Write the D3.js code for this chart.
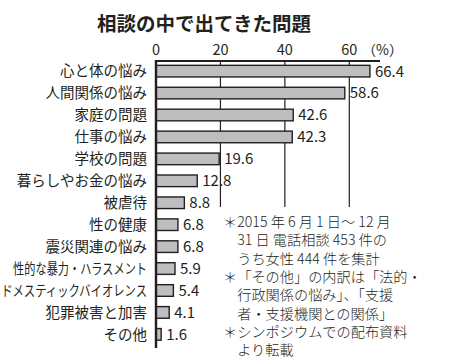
<!DOCTYPE html>
<html>
<head>
<meta charset="utf-8">
<script src="https://cdn.jsdelivr.net/npm/d3@7"></script>
<style>
  body { margin: 0; background: #fff; }
  svg { display: block; }
</style>
</head>
<body>
<div id="chart"></div>
<script>
// data
const categories = ["心と体の悩み", "人間関係の悩み", "家庭の問題", "仕事の悩み", "学校の問題",
  "暮らしやお金の悩み", "被虐待", "性の健康", "震災関連の悩み", "性的な暴力・ハラスメント",
  "ドメスティックバイオレンス", "犯罪被害と加害", "その他"];
const values = [66.4, 58.6, 42.6, 42.3, 19.6, 12.8, 8.8, 6.8, 6.8, 5.9, 5.4, 4.1, 1.6];
const ticks = [0, 20, 40, 60];
const notes = [
  "＊2015 年 6 月 1 日～ 12 月",
  "　31 日 電話相談 453 件の",
  "　うち女性 444 件を集計",
  "＊「その他」の内訳は「法的・",
  "　行政関係の悩み」、「支援",
  "　者・支援機関との関係」",
  "＊シンポジウムでの配布資料",
  "　より転載"
];

const W = 456, H = 361;
const ink = "#231f20";
const jp = "'Noto Sans CJK JP', 'Noto Sans', sans-serif";

const svg = d3.select("#chart").append("svg")
  .attr("width", W).attr("height", H);

const x = d3.scaleLinear().domain([0, 60]).range([156, 349.3]);
const y = d3.scaleBand().domain(categories).range([60.5, 345]).paddingInner(0.47).paddingOuter(0.22);

// title
svg.append("text")
  .attr("x", 204).attr("y", 31)
  .attr("text-anchor", "middle")
  .style("font-family", jp).style("font-weight", "bold").style("font-size", "19.5px")
  .attr("fill", ink)
  .text("相談の中で出てきた問題");

// tick labels
svg.selectAll(".tick-label").data(ticks).join("text")
  .attr("class", "tick-label")
  .attr("x", d => x(d)).attr("y", 55)
  .attr("text-anchor", "middle")
  .style("font-family", jp).style("font-size", "14.5px")
  .attr("fill", ink)
  .text(d => d);
svg.append("text")
  .attr("x", 362).attr("y", 55)
  .style("font-family", jp).style("font-size", "14px")
  .attr("fill", ink)
  .text("（%）");

// gridlines
svg.selectAll(".grid").data(ticks.slice(1)).join("line")
  .attr("class", "grid")
  .attr("x1", d => x(d)).attr("x2", d => x(d))
  .attr("y1", 61).attr("y2", 207)
  .attr("stroke", ink).attr("stroke-width", 1.2);

// bars
svg.selectAll(".bar").data(values).join("rect")
  .attr("class", "bar")
  .attr("x", x(0))
  .attr("y", (d, i) => y(categories[i]))
  .attr("width", d => x(d) - x(0))
  .attr("height", y.bandwidth())
  .attr("fill", "#bcbec0")
  .attr("stroke", ink).attr("stroke-width", 1.4);

// value labels
svg.selectAll(".val").data(values).join("text")
  .attr("class", "val")
  .attr("x", d => x(d) + 5)
  .attr("y", (d, i) => y(categories[i]) + y.bandwidth() / 2)
  .attr("dy", "0.36em")
  .style("font-family", jp).style("font-size", "15px")
  .attr("fill", ink)
  .text(d => d.toFixed(1));

// category labels (long ones squeezed to fit, as in the print)
const maxW = 134;
svg.selectAll(".cat").data(categories).join("text")
  .attr("class", "cat")
  .attr("text-anchor", "end")
  .attr("dy", "0.36em")
  .style("font-family", jp).style("font-size", "14.5px")
  .attr("fill", ink)
  .text(d => d)
  .attr("transform", function(d) {
    const w = this.getComputedTextLength();
    const lim = d.length >= 13 ? 146 : maxW;
    const s = w > lim ? lim / w : 1;
    return `translate(147,${y(d) + y.bandwidth() / 2}) scale(${s},1)`;
  });

// axes
svg.append("line")
  .attr("x1", x(0) - 1).attr("x2", 380)
  .attr("y1", 61).attr("y2", 61)
  .attr("stroke", ink).attr("stroke-width", 2.2);
svg.append("line")
  .attr("x1", x(0)).attr("x2", x(0))
  .attr("y1", 60).attr("y2", 348)
  .attr("stroke", ink).attr("stroke-width", 2.4);

// notes
svg.selectAll(".note").data(notes).join("text")
  .attr("class", "note")
  .attr("x", 223)
  .attr("y", (d, i) => 227 + i * 18.3)
  .style("font-family", "'Noto Sans CJK JP', 'DejaVu Serif', serif").style("font-size", "14.2px")
  .style("font-weight", 300)
  .attr("fill", ink)
  .text(d => d);
</script>
</body>
</html>
